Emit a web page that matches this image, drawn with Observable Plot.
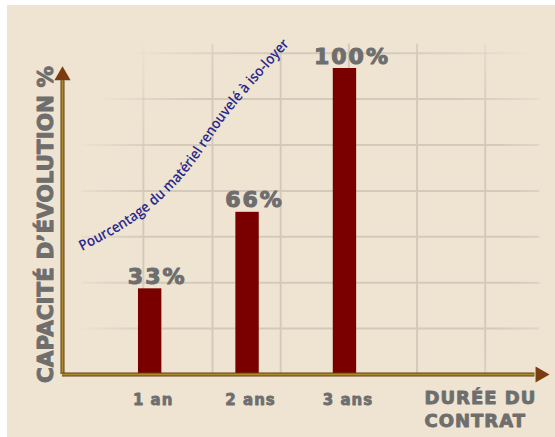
<!DOCTYPE html>
<html>
<head>
<meta charset="utf-8">
<script src="https://cdn.jsdelivr.net/npm/d3@7"></script>
<script src="https://cdn.jsdelivr.net/npm/@observablehq/plot@0.6"></script>
<style>
  html, body { margin: 0; padding: 0; background: #ffffff; }
  #wrap { position: relative; width: 555px; height: 437px; overflow: hidden; }
  #bg { position: absolute; left: 7px; top: 5px; right: 0; bottom: 0; background: #eee4d1; }
  #wrap svg { position: absolute; left: 0; top: 0; overflow: visible; }
  g[aria-description="valeurs"] text { letter-spacing: 2px; }
  g[aria-description="categories"] text { letter-spacing: 1px; }
  g[aria-description="titre-x"] text { letter-spacing: 1px; }
</style>
</head>
<body>
<div id="wrap"><div id="bg"></div></div>
<script>
// ---- data ----
const categories = ["1 an", "2 ans", "3 ans"];
const positions = [1, 2, 3];
const barHeights = [28, 53, 100];
const valueLabels = ["33%", "66%", "100%"];
const gridY = [15, 30, 45, 60, 75, 90, 105];
const gridX = [0.93, 1.64, 2.34, 3.04, 3.74, 4.44];
const xTitle = "DURÉE DU\nCONTRAT";
const yTitle = "CAPACITÉ D’ÉVOLUTION %";
const annotation = "Pourcentage du matériel renouvelé à iso-loyer";
const curveX = [0.305, 0.932, 1.445, 1.804, 2.451];
const curveY = [40.2, 52.0, 68.3, 84.6, 108.2];

const bars = categories.map((c, i) => ({cat: c, pos: positions[i], value: barHeights[i], label: valueLabels[i]}));
const curve = curveX.map((x, i) => ({x, y: curveY[i]}));

const gray = "#6e6e6e";
const heavy = "DejaVu Sans";
const x0 = 0.1;

const svg = Plot.plot({
  width: 555,
  height: 437,
  marginLeft: 62,
  marginRight: 6,
  marginTop: 68,
  marginBottom: 63,
  x: {domain: [0.1, 5.1], axis: null},
  y: {domain: [0, 100], axis: null},
  style: {background: "transparent", overflow: "visible"},
  marks: [
    Plot.ruleY(gridY, {x1: 0.3, x2: 5.0, stroke: "#d4cabb", strokeWidth: 2, ariaDescription: "grille"}),
    Plot.ruleX(gridX, {y1: 0, y2: 108, stroke: "#d4cabb", strokeWidth: 2, ariaDescription: "grille"}),
    Plot.rectY(bars, {x1: d => d.pos - 0.12, x2: d => d.pos + 0.12, y1: 0, y2: "value", fill: "#7a0000"}),
    Plot.ruleX([x0], {y1: 0, y2: 96, stroke: "#5e4010", strokeWidth: 4}),
    Plot.ruleX([x0], {y1: 0, y2: 96, stroke: "#b08a2e", strokeWidth: 2}),
    Plot.ruleY([0], {x1: x0, x2: 4.95, stroke: "#5e4010", strokeWidth: 4}),
    Plot.ruleY([0], {x1: x0, x2: 4.95, stroke: "#b08a2e", strokeWidth: 2}),
    Plot.dot([0], {x: x0, y: 97.7, symbol: "triangle", r: 6, fill: "#7a3c10"}),
    Plot.dot([0], {x: 5.005, y: 0, symbol: "triangle", r: 6, rotate: 90, fill: "#7a3c10"}),
    Plot.text(bars, {x: "pos", y: "value", text: "label", dx: 7, dy: -5, lineAnchor: "bottom",
      fontSize: 22, fontWeight: "bold", fontFamily: heavy, fill: gray, stroke: gray, strokeWidth: 1.1,
      ariaDescription: "valeurs"}),
    Plot.text(bars, {x: "pos", y: 0, text: "cat", dx: 3, dy: 30, lineAnchor: "bottom",
      fontSize: 15, fontWeight: "bold", fontFamily: heavy, fill: gray, stroke: gray, strokeWidth: 0.8,
      ariaDescription: "categories"}),
    Plot.text([xTitle], {frameAnchor: "bottom-right", textAnchor: "start", dx: -125, dy: 52,
      lineAnchor: "bottom", lineHeight: 1.25, fontSize: 18, fontWeight: "bold", fontFamily: heavy,
      fill: gray, stroke: gray, strokeWidth: 0.9, ariaDescription: "titre-x"}),
    Plot.text([yTitle], {frameAnchor: "left", rotate: -90, textAnchor: "middle", lineAnchor: "bottom",
      dx: -10, dy: 3, fontSize: 21.5, fontWeight: "bold", fontFamily: heavy, fill: gray,
      stroke: gray, strokeWidth: 1}),
    Plot.line(curve, {x: "x", y: "y", curve: "natural", stroke: "#000", strokeOpacity: 0, ariaDescription: "courbe"})
  ]
});

document.getElementById("wrap").appendChild(svg);

const NS = "http://www.w3.org/2000/svg";
// fade mask for the grid
const defs = document.createElementNS(NS, "defs");
defs.innerHTML = `
  <radialGradient id="fade" gradientUnits="userSpaceOnUse" cx="330" cy="235" r="270">
    <stop offset="0" stop-color="#fff"/>
    <stop offset="0.7" stop-color="#fff"/>
    <stop offset="1" stop-color="#000"/>
  </radialGradient>
  <mask id="gridmask" maskUnits="userSpaceOnUse" x="0" y="0" width="555" height="437">
    <rect x="0" y="0" width="555" height="437" fill="url(#fade)"/>
  </mask>`;
svg.insertBefore(defs, svg.firstChild);
svg.querySelectorAll('g[aria-description="grille"]').forEach(g => g.setAttribute("mask", "url(#gridmask)"));

// curved annotation along the line's path
const p = svg.querySelector('g[aria-description="courbe"] path');
if (p) {
  p.setAttribute("id", "courbe-path");
  const len = p.getTotalLength();
  const t = document.createElementNS(NS, "text");
  t.setAttribute("font-family", "Open Sans, Noto Sans, sans-serif");
  t.setAttribute("font-size", "14.5");
  t.setAttribute("font-weight", "600");
  t.setAttribute("text-anchor", "start");
  t.setAttribute("fill", "#27278e");
  const tp = document.createElementNS(NS, "textPath");
  tp.setAttribute("href", "#courbe-path");
  tp.setAttribute("startOffset", "0");
  tp.setAttribute("textLength", String(len - 2));
  tp.setAttribute("lengthAdjust", "spacingAndGlyphs");
  tp.textContent = annotation;
  t.appendChild(tp);
  svg.appendChild(t);
}
</script>
</body>
</html>
